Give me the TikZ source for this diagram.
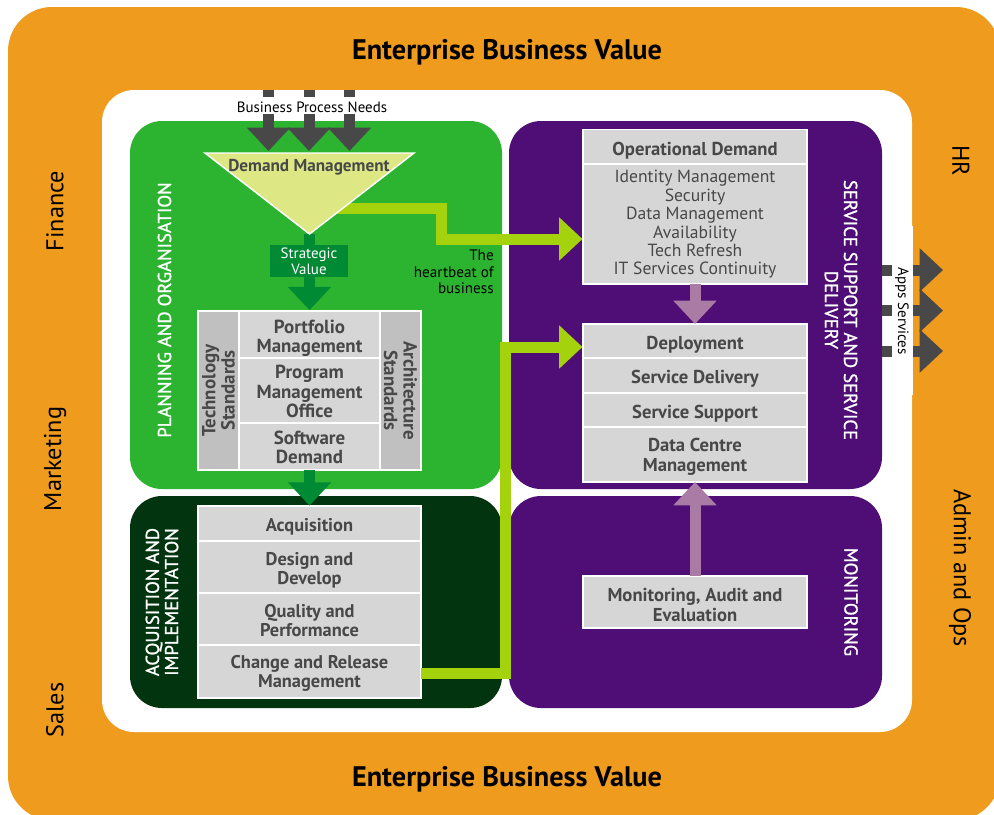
\documentclass[tikz,border=0pt]{standalone}
\usepackage{fontspec}
\setmainfont{PT Sans}
\newfontfamily\titlefont[FakeBold=1.2]{PT Sans}
\usetikzlibrary{arrows.meta,calc}
\definecolor{orangebg}{HTML}{EE9B1E}
\definecolor{plangreen}{HTML}{2CB431}
\definecolor{darkgreen}{HTML}{02350F}
\definecolor{purplebg}{HTML}{4E0E75}
\definecolor{boxgray}{HTML}{D6D6D6}
\definecolor{sidegray}{HTML}{C0C0C0}
\definecolor{inkgray}{HTML}{484848}
\definecolor{midgreen}{HTML}{008A33}
\definecolor{limegreen}{HTML}{A4D30E}
\definecolor{mauve}{HTML}{A97BA5}
\definecolor{funnel}{HTML}{DDE884}
\newcommand{\fs}[2]{\fontsize{#1}{#2}\selectfont}
% name, cx, cy, w, h, style, text, downward shift of the text in px
\newcommand{\pxbox}[8]{%
  \node[#6,minimum width={(#4)*0.75pt},minimum height={(#5)*0.75pt}] (#1) at (#2,#3) {};
  \node[#6,draw=none,fill=none,minimum width=0pt,minimum height=0pt] (#1t) at ([yshift={-(#8)*0.75pt}]#1.center) {#7};
}
\tikzset{
  panel/.style={rectangle,rounded corners=24pt,inner sep=0pt,outer sep=0pt},
  graybox/.style={rectangle,draw=white,line width=1.1pt,fill=boxgray,inner sep=0pt,outer sep=0pt,align=center,text=inkgray,font=\fs{14}{14.6}\bfseries},
  planbox/.style={graybox,font=\fs{14.2}{14.4}\bfseries},
  acqbox/.style={graybox,font=\fs{13.8}{14.6}\bfseries},
  sidebox/.style={graybox,fill=sidegray,font=\fs{14.2}{14.5}\bfseries},
  listbox/.style={graybox,font=\fs{13.2}{13.8}},
  blockarrow/.style={line width=8.25pt,line join=miter,-{Triangle[length=17.5pt,width=31.5pt]}},
  darkarrow/.style={blockarrow,draw=inkgray,color=inkgray},
  greenarrow/.style={blockarrow,draw=midgreen,color=midgreen},
  limearrow/.style={blockarrow,draw=limegreen,color=limegreen},
  mauvearrow/.style={blockarrow,draw=mauve,color=mauve},
  bigtitle/.style={font=\fs{21.2}{24}\bfseries,text=black,inner sep=0pt},
  sidelabel/.style={font=\fs{18.2}{20},text=black,inner sep=0pt},
  paneltitle/.style={font=\fs{14}{14.4}\titlefont,text=white,align=center,inner sep=0pt},
  smalllabel/.style={font=\fs{11.2}{12},text=black,inner sep=0pt},
}
\begin{document}
\begin{tikzpicture}[x=0.75pt,y=-0.75pt]
\useasboundingbox (0,0) rectangle (994,814);
\fill[white] (0,0) rectangle (994,814);
\begin{scope}
\clip (0,0) rectangle (994,814);
\fill[orangebg,rounded corners=33pt] (8,7) rectangle (1000,820);
\end{scope}
\fill[white,rounded corners=24pt] (102,90) rectangle (912,732);
\fill[white] (900,226) rectangle (913,395);

% panels
\node[panel,fill=plangreen,minimum width=279pt,minimum height=276pt] (plan) at (316,305) {};
\node[panel,fill=darkgreen,minimum width=279pt,minimum height=159pt] (acq) at (316,602) {};
\node[panel,fill=purplebg,minimum width=279.75pt,minimum height=276pt] (svc) at (695.5,305) {};
\node[panel,fill=purplebg,minimum width=279.75pt,minimum height=159pt] (mon) at (695.5,602) {};

% boxes
\pxbox{tech}{218.5}{390.5}{159}{41}{sidebox,rotate=90}{Technology\\Standards}{0}
\pxbox{arch}{400.5}{390.5}{159}{41}{sidebox,rotate=-90}{Architecture\\Standards}{0}
\pxbox{port}{309.5}{334.5}{141}{47}{planbox}{Portfolio\\Management}{3.8}
\pxbox{prog}{309.5}{390.5}{141}{65}{planbox}{Program\\Management\\Office}{1}
\pxbox{soft}{309.5}{446.5}{141}{47}{planbox}{Software\\Demand}{0.8}

\pxbox{acqa}{309.5}{523.5}{223}{35}{acqbox}{Acquisition}{3.5}
\pxbox{dsgn}{309.5}{567}{223}{52}{acqbox}{Design and\\Develop}{3.5}
\pxbox{qual}{309.5}{619}{223}{52}{acqbox}{Quality and\\Performance}{1.5}
\pxbox{chg}{309.5}{671.5}{223}{53}{acqbox}{Change and Release\\Management}{2}

\pxbox{opsh}{695}{147}{224}{35}{graybox}{Operational Demand}{3.5}
\pxbox{opsb}{695}{224}{224}{120}{listbox}{Identity Management\\Security\\Data Management\\Availability\\Tech Refresh\\IT Services Continuity}{0.5}
\pxbox{dep}{695}{341}{224}{34}{graybox}{Deployment}{3.5}
\pxbox{sdel}{695}{375.5}{224}{35}{graybox}{Service Delivery}{3.5}
\pxbox{ssup}{695}{410}{224}{34}{graybox}{Service Support}{3.5}
\pxbox{dcm}{695}{454.5}{224}{55}{graybox}{Data Centre\\Management}{2.5}
\pxbox{maud}{695}{602}{224}{52}{graybox}{Monitoring, Audit and\\Evaluation}{3}

% named free ends
\coordinate (dmTip) at (309.5,234);
\coordinate (dmSide) at (335,208.5);
\coordinate (bendA) at (441,239);
\coordinate (bendB) at (505,347);
\coordinate (inA) at (268.5,90);
\coordinate (inB) at (309,90);
\coordinate (inC) at (349.5,90);
\coordinate (tipA) at (268.5,151);
\coordinate (tipB) at (309,151);
\coordinate (tipC) at (349.5,151);
\coordinate (outA) at (943,270);
\coordinate (outB) at (943,310.5);
\coordinate (outC) at (943,351);

% connectors
\foreach \a/\b in {inA/tipA,inB/tipB,inC/tipC}{\draw[darkarrow] (\a) -- (\b);}
\foreach \b in {outA,outB,outC}{\draw[darkarrow] (svc.east |- \b) -- (\b);}
\draw[greenarrow] (dmTip) -- ([yshift=0.6pt]port.north);
\draw[greenarrow] (soft.south) -- ([yshift=0.3pt]acqa.north);
\draw[limearrow] (dmSide) -| (bendA) -- ([xshift=-0.4pt,yshift=-11.25pt]opsb.west);
\draw[limearrow] ([yshift=-1.5pt]chg.east) -| (bendB) -- ([xshift=-0.4pt,yshift=-4.5pt]dep.west);
\draw[mauvearrow] (opsb.south) -- (dep.north);
\draw[mauvearrow] (maud.north) -- (dcm.south);

% funnel
\draw[fill=funnel,draw=white,line width=1.1pt,line join=miter] (205,153) -- (414,153) -- (dmTip) -- cycle;
\node[text=inkgray,font=\fs{12.9}{15}\bfseries,inner sep=0pt] (dm) at (309,167) {Demand Management};

\node[rectangle,fill=midgreen,inner sep=0pt,text=white,align=center,font=\fs{11.2}{11.8},minimum width=58.5pt,minimum height=24pt] (strat) at (309,261) {Strategic\\Value};
\node[fill=white,inner sep=0pt,minimum width=112.5pt,minimum height=13pt] (bpnbg) at (312,105.5) {};
\node[smalllabel] (bpn) at (312,107) {Business Process Needs};
\node[fill=white,inner sep=0pt,minimum width=15.75pt,minimum height=126.75pt] (appsbg) at (902.5,310.5) {};
\node[smalllabel,rotate=-90] (apps) at (902,311) {Apps Services};

% titles
\node[bigtitle] (evt) at (507,52) {Enterprise Business Value};
\node[bigtitle] (evb) at (507,779) {Enterprise Business Value};
\node[sidelabel,rotate=90] (fin) at (55,211) {Finance};
\node[sidelabel,rotate=90] (mkt) at (55,459) {Marketing};
\node[sidelabel,rotate=90] (sal) at (55,710) {Sales};
\node[sidelabel,rotate=-90] (hr) at (961,161) {HR};
\node[sidelabel,rotate=-90] (adm) at (960,568) {Admin and Ops};

\node[paneltitle,rotate=90] (t1) at (164.5,310) {PLANNING AND ORGANISATION};
\node[paneltitle,rotate=90] (t2) at (162,602) {ACQUISITION AND\\IMPLEMENTATION};
\node[paneltitle,rotate=-90] (t3) at (841,310) {SERVICE SUPPORT AND SERVICE\\DELIVERY};
\node[paneltitle,rotate=-90] (t4) at (851,602) {MONITORING};
\node[smalllabel,align=right,anchor=north east,font=\fs{11.4}{12.3}] (hb) at (494,250) {The\\heartbeat of\\business};
\end{tikzpicture}
\end{document}
